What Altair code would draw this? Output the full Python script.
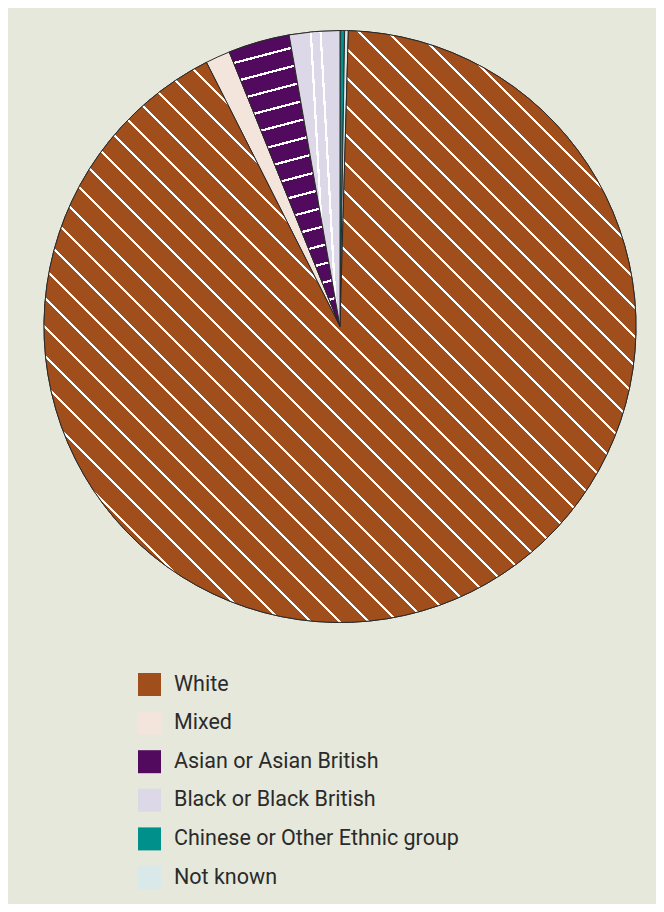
import math
import altair as alt
import pandas as pd

# ---- data ----
groups = ["White", "Mixed", "Asian or Asian British", "Black or Black British",
          "Chinese or Other Ethnic group", "Not known"]
percent = [92.1, 1.35, 3.35, 2.75, 0.25, 0.2]
pie_order = [2, 3, 4, 5, 0, 1]          # clockwise position starting at 12 o'clock
colors = ["#a04e1c", "#f3e4dc", "#520a5f", "#ddd8e7", "#00908c", "#d9e9e9"]

df = pd.DataFrame({"group": groups, "percent": percent, "pie_order": pie_order})

# ---- layout / style ----
W, H = 648, 896
CX, CY, R = 332, 318.5, 296
EDGE = "#2a2a2a"


def stripes(base_col, line_col, start, period, half, x1, y1, x2, y2):
    stops = [{"offset": 0, "color": base_col}]
    t = start
    while t <= 1:
        a = round(max(t - half, 0), 5)
        b = round(min(t + half, 1), 5)
        stops += [{"offset": a, "color": base_col}, {"offset": a, "color": line_col},
                  {"offset": b, "color": line_col}, {"offset": b, "color": base_col}]
        t += period
    stops.append({"offset": 1, "color": base_col})
    return {"gradient": "linear", "x1": x1, "y1": y1, "x2": x2, "y2": y2, "stops": stops}


white_fill = stripes(colors[0], "#ffffff", 0.00524, 0.024493, 0.0013, 0, 1, 1, 0)
asian_fill = stripes(colors[2], "#ffffff", 0.0359, 0.0635, 0.004, 0, 0, 0.1, 1)
black_fill = stripes(colors[3], "#ffffff", 0.6765, 0.1739, 0.02, 0, 1, 1, 0.6776)

base = alt.Chart(df).transform_window(
    cum="sum(percent)", sort=[alt.SortField("pie_order")], frame=[None, 0]
).transform_calculate(start="datum.cum - datum.percent")

theta_scale = alt.Scale(domain=[0, 100], range=[0, 2 * math.pi])
enc = dict(
    theta=alt.Theta("start:Q", scale=theta_scale),
    theta2=alt.Theta2("cum:Q"),
    x=alt.value(CX),
    y=alt.value(CY),
)

solid = base.mark_arc(radius=R, stroke=EDGE, strokeWidth=1).encode(
    color=alt.Color(
        "group:N",
        scale=alt.Scale(domain=groups, range=colors),
        legend=alt.Legend(
            title=None, orient="none", legendX=130, legendY=665, direction="vertical",
            symbolType="square", symbolSize=529, symbolStrokeWidth=0,
            symbolStrokeColor="transparent", symbolOpacity=1,
            labelFont="Roboto", labelFontSize=21.5, labelColor="#2b2b2b",
            labelOffset=13, rowPadding=15.6, padding=0, labelLimit=0,
        ),
    ),
    **enc,
)


def patterned(name, fill):
    return base.transform_filter(alt.datum.group == name).mark_arc(
        radius=R, fill=fill, stroke=EDGE, strokeWidth=1
    ).encode(**enc)


chart = alt.layer(
    solid,
    patterned("White", white_fill),
    patterned("Asian or Asian British", asian_fill),
    patterned("Black or Black British", black_fill),
).properties(
    width=W, height=H, background="#e6e8dc", padding=0,
    autosize=alt.AutoSizeParams(type="none"),
).configure_view(stroke=None)

chart.save("out.html", embed_options={"renderer": "svg", "actions": False})
